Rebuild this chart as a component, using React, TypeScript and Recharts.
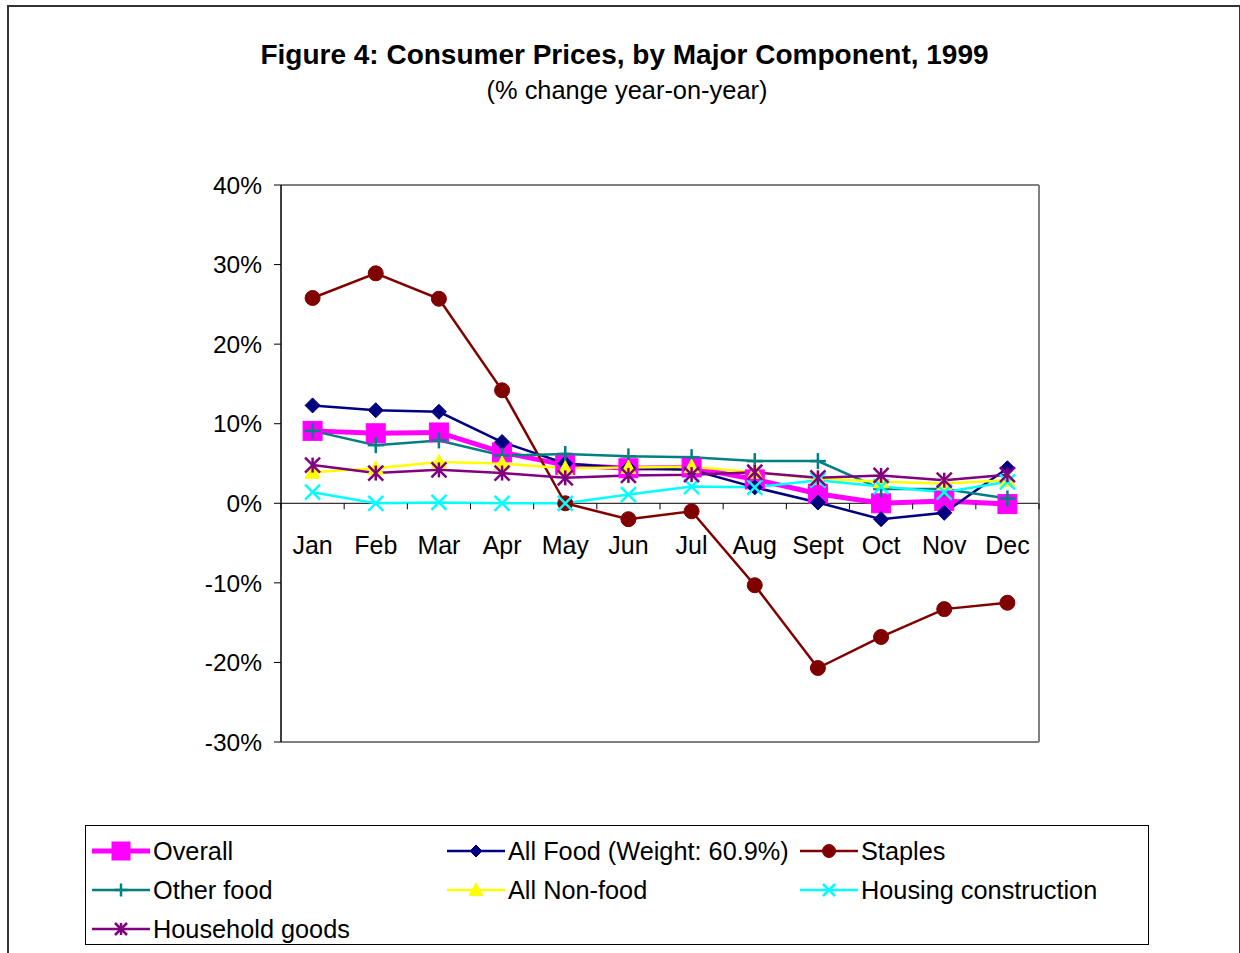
import React from 'react';
import { LineChart, Line, XAxis, YAxis, ReferenceLine } from 'recharts';

const months = ['Jan', 'Feb', 'Mar', 'Apr', 'May', 'Jun', 'Jul', 'Aug', 'Sept', 'Oct', 'Nov', 'Dec'];
const overall = [9.1, 8.8, 8.9, 6.4, 4.8, 4.4, 4.5, 3.0, 1.2, 0.0, 0.3, -0.1];
const allFood = [12.3, 11.7, 11.5, 7.7, 5.0, 4.4, 4.2, 2.0, 0.1, -2.0, -1.2, 4.4];
const staples = [25.8, 28.9, 25.7, 14.2, 0.0, -2.0, -1.0, -10.3, -20.7, -16.8, -13.3, -12.5];
const otherFood = [9.1, 7.3, 7.9, 6.0, 6.2, 5.9, 5.8, 5.3, 5.3, 1.8, 1.8, 0.6];
const nonFood = [3.9, 4.4, 5.2, 5.0, 4.4, 4.5, 4.6, 3.9, 3.1, 2.7, 2.5, 2.9];
const housing = [1.4, 0.0, 0.1, 0.0, 0.0, 1.1, 2.1, 2.0, 2.9, 2.1, 1.4, 2.7];
const household = [4.8, 3.8, 4.2, 3.8, 3.2, 3.5, 3.6, 3.9, 3.2, 3.5, 2.9, 3.6];
const yTicks = [-30, -20, -10, 0, 10, 20, 30, 40];

const data = months.map((m, i) => ({
  month: m,
  overall: overall[i],
  allFood: allFood[i],
  staples: staples[i],
  otherFood: otherFood[i],
  nonFood: nonFood[i],
  housing: housing[i],
  household: household[i],
}));

const FONT = '"Liberation Sans", Arial, sans-serif';
const W = 1240;
const H = 953;
const TOP_AXIS_H = 1;
const RIGHT_AXIS_W = 1;
const margin = { top: 185 - TOP_AXIS_H, right: 201 - RIGHT_AXIS_W, bottom: 181, left: 201 };
const Y_AXIS_W = 80;
const X_AXIS_H = 30;
const plotLeft = margin.left + Y_AXIS_W;
const plotTop = margin.top + TOP_AXIS_H;
const plotWidth = W - plotLeft - margin.right - RIGHT_AXIS_W;
const plotHeight = H - plotTop - margin.bottom - X_AXIS_H;
const yMin = -30;
const yMax = 40;
const zeroY = plotTop + plotHeight * (yMax / (yMax - yMin));
const band = plotWidth / months.length;
const FRAME = '#808080';

type Marker = 'square' | 'diamond' | 'circle' | 'plus' | 'triangle' | 'x' | 'star';

const drawMarker = (kind: Marker, cx: number, cy: number, color: string, s: number, key?: any) => {
  const h = s / 2;
  switch (kind) {
    case 'square':
      return <rect key={key} x={cx - h} y={cy - h} width={s} height={s} fill={color} stroke={color} />;
    case 'diamond':
      return <polygon key={key} points={`${cx},${cy - h} ${cx + h},${cy} ${cx},${cy + h} ${cx - h},${cy}`} fill={color} stroke={color} />;
    case 'circle':
      return <circle key={key} cx={cx} cy={cy} r={h} fill={color} stroke={color} />;
    case 'triangle':
      return <polygon key={key} points={`${cx},${cy - h} ${cx + h},${cy + h * 0.8} ${cx - h},${cy + h * 0.8}`} fill={color} stroke={color} />;
    case 'plus':
      return (
        <g key={key} stroke={color} strokeWidth={2.5}>
          <line x1={cx - h} y1={cy} x2={cx + h} y2={cy} />
          <line x1={cx} y1={cy - h} x2={cx} y2={cy + h} />
        </g>
      );
    case 'x':
      return (
        <g key={key} stroke={color} strokeWidth={2.5}>
          <line x1={cx - h} y1={cy - h} x2={cx + h} y2={cy + h} />
          <line x1={cx - h} y1={cy + h} x2={cx + h} y2={cy - h} />
        </g>
      );
    case 'star':
      return (
        <g key={key} stroke={color} strokeWidth={2.5}>
          <line x1={cx - h} y1={cy - h} x2={cx + h} y2={cy + h} />
          <line x1={cx - h} y1={cy + h} x2={cx + h} y2={cy - h} />
          <line x1={cx} y1={cy - h} x2={cx} y2={cy + h} />
        </g>
      );
  }
  return null;
};

const series: { key: string; name: string; color: string; width: number; marker: Marker; size: number; legendSize: number }[] = [
  { key: 'overall', name: 'Overall', color: '#FF00FF', width: 5, marker: 'square', size: 19, legendSize: 18 },
  { key: 'allFood', name: 'All Food (Weight: 60.9%)', color: '#000080', width: 2.5, marker: 'diamond', size: 15, legendSize: 12 },
  { key: 'staples', name: 'Staples', color: '#800000', width: 2.5, marker: 'circle', size: 15, legendSize: 13 },
  { key: 'otherFood', name: 'Other food', color: '#008080', width: 2.5, marker: 'plus', size: 16, legendSize: 13 },
  { key: 'nonFood', name: 'All Non-food', color: '#FFFF00', width: 2.5, marker: 'triangle', size: 15, legendSize: 14 },
  { key: 'housing', name: 'Housing construction', color: '#00FFFF', width: 2.5, marker: 'x', size: 15, legendSize: 12 },
  { key: 'household', name: 'Household goods', color: '#800080', width: 2.5, marker: 'star', size: 15, legendSize: 12 },
];

const CatTick = (props: any) => {
  const { x, payload, index } = props;
  const last = index === months.length - 1;
  return (
    <g>
      <text x={x} y={zeroY + 42} textAnchor="middle" dominantBaseline="central" fontSize={25} fontFamily={FONT} fill="#000">
        {payload.value}
      </text>
      <line x1={x - band / 2} y1={zeroY} x2={x - band / 2} y2={zeroY + 6} stroke="#000" strokeWidth={1} />
      {last && <line x1={x + band / 2} y1={zeroY} x2={x + band / 2} y2={zeroY + 6} stroke="#000" strokeWidth={1} />}
    </g>
  );
};

const LegendBox = () => {
  const colX = [6, 361, 714];
  return (
    <div
      style={{
        position: 'absolute',
        left: 85,
        top: 825,
        width: 1062,
        height: 118,
        border: '1px solid #000',
        background: '#fff',
        fontFamily: FONT,
        fontSize: 25.3,
      }}
    >
      {series.map((s, i) => {
        const col = i % 3;
        const row = Math.floor(i / 3);
        const cy = 25 + row * 39;
        return (
          <div key={s.key} style={{ position: 'absolute', left: colX[col], top: cy - 15, height: 30, display: 'flex', alignItems: 'center' }}>
            <svg width={60} height={30} style={{ display: 'block' }}>
              <line x1={0} y1={15} x2={58} y2={15} stroke={s.color} strokeWidth={s.width} />
              {drawMarker(s.marker, 29, 15, s.color, s.legendSize)}
            </svg>
            <span style={{ marginLeft: 1, whiteSpace: 'nowrap', color: '#000' }}>{s.name}</span>
          </div>
        );
      })}
    </div>
  );
};

export default function App() {
  return (
    <div style={{ position: 'absolute', left: 0, top: 0, width: W, height: H, overflow: 'hidden', background: '#fff' }}>
      <div
        style={{
          position: 'absolute',
          left: 7,
          top: 5,
          width: 1230,
          height: 1100,
          borderTop: '2px solid #333',
          borderLeft: '2px solid #333',
          borderRight: '2px solid #333',
        }}
      />
      <div style={{ position: 'absolute', left: 0, width: 1249, top: 39, textAlign: 'center', fontFamily: FONT, fontSize: 28, fontWeight: 'bold', lineHeight: '32px', color: '#000' }}>
        Figure 4: Consumer Prices, by Major Component, 1999
      </div>
      <div style={{ position: 'absolute', left: 0, width: 1254, top: 75, textAlign: 'center', fontFamily: FONT, fontSize: 25.4, lineHeight: '30px', color: '#000' }}>
        (% change year-on-year)
      </div>
      <div style={{ position: 'absolute', left: 0, top: 0 }}>
        <LineChart width={W} height={H} data={data} margin={margin}>
          <XAxis
            xAxisId="top"
            orientation="top"
            dataKey="month"
            height={TOP_AXIS_H}
            tick={false}
            tickLine={false}
            padding={{ left: band / 2, right: band / 2 }}
            axisLine={{ stroke: FRAME, strokeWidth: 2 }}
          />
          <YAxis
            yAxisId="right"
            orientation="right"
            width={RIGHT_AXIS_W}
            domain={[yMin, yMax]}
            allowDataOverflow
            tick={false}
            tickLine={false}
            axisLine={{ stroke: FRAME, strokeWidth: 2 }}
          />
          <XAxis
            dataKey="month"
            axisLine={{ stroke: FRAME, strokeWidth: 2 }}
            tickLine={false}
            height={X_AXIS_H}
            interval={0}
            tick={<CatTick />}
            padding={{ left: band / 2, right: band / 2 }}
          />
          <YAxis
            domain={[yMin, yMax]}
            ticks={yTicks}
            interval={0}
            width={Y_AXIS_W}
            tickFormatter={(v: number) => `${v}%`}
            axisLine={{ stroke: '#000', strokeWidth: 1.5 }}
            tickLine={{ stroke: '#000' }}
            tickSize={7}
            tickMargin={12}
            tick={{ fill: '#000', fontSize: 24.5, fontFamily: FONT }}
            allowDataOverflow
          />
          <ReferenceLine y={0} stroke="#000" strokeWidth={1} />
          {series.map((s) => (
            <Line
              key={s.key}
              dataKey={s.key}
              name={s.name}
              stroke={s.color}
              strokeWidth={s.width}
              isAnimationActive={false}
              dot={(p: any) => drawMarker(s.marker, p.cx, p.cy, s.color, s.size, `${s.key}-${p.index}`)}
              activeDot={false}
            />
          ))}
        </LineChart>
      </div>
      <LegendBox />
    </div>
  );
}
